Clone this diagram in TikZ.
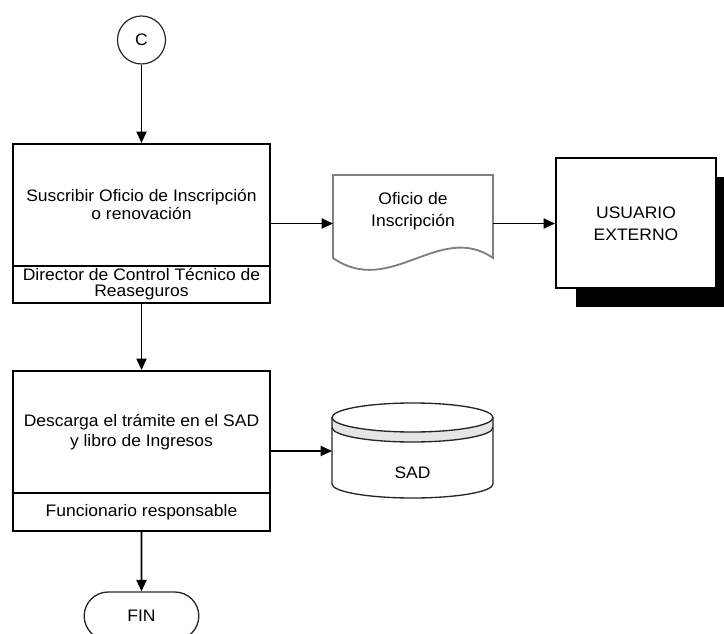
\documentclass[tikz,border=0pt]{standalone}
\usepackage{fontspec}
\setmainfont{Liberation Sans}[FakeStretch=1.05]
\usetikzlibrary{arrows.meta,shapes.misc,shadows}

\begin{document}
\begin{tikzpicture}[x=0.75pt,y=-0.75pt,
  txt/.style={align=center, inner sep=0pt},
  fs/.style={font=\fontsize{12.5}{#1}\selectfont},
  frame/.style={draw=black, line width=1.5pt, fill=white, inner sep=0pt},
  arr/.style={draw=black, line width=1.4pt, -{Triangle[length=8.5pt,width=7.5pt]}},
  docline/.style={draw=black!50, line width=1.4pt, fill=white},
  cylline/.style={draw=black!85, line width=1pt},
]
\useasboundingbox (0,0) rectangle (724,634);

% connector circle
\node[draw=black!85, line width=0.9pt, circle, minimum size=36pt, inner sep=0pt, fs=15pt] (c) at (141.5,40) {C};

% first activity box
\node[frame, minimum width=192.75pt, minimum height=119.25pt] (b1) at (141.5,223.5) {};
\draw[line width=1.5pt] (13,266) -- (270,266);
\node[txt, fs=13.5pt] (t1) at (141.5,204) {Suscribir Oficio de Inscripción\\o renovación};
\node[txt, fs=12pt] (r1) at (141.5,284.5) {Director de Control Técnico de\\Reaseguros};

% document symbol
\draw[docline] (333,258) -- (333,175) -- (493,175) -- (493,258)
  .. controls (440,221) and (390,298) .. (333,258) -- cycle;
\node[txt, fs=16.5pt] (doc) at (413,211) {Oficio de\\Inscripción};
\coordinate (docw) at (333,223.5);
\coordinate (doce) at (493,223.5);

% external user
\node[frame, txt, fs=16.5pt, minimum width=120pt, minimum height=97.5pt,
  drop shadow={shadow xshift=15pt, shadow yshift=-14.25pt, fill=black, opacity=1}]
  (usr) at (636,223.5) {USUARIO\\EXTERNO};

% second activity box
\node[frame, minimum width=192.75pt, minimum height=120pt] (b2) at (141.5,451) {};
\draw[line width=1.5pt] (13,493) -- (270,493);
\node[txt, fs=15pt] (t2) at (141.5,432) {Descarga el trámite en el SAD\\y libro de Ingresos};
\node[txt, fs=15pt] (r2) at (141.5,512) {Funcionario responsable};

% database cylinder
\fill[black!10] (332,417.5) arc[start angle=180, end angle=0, x radius=80.5, y radius=14.5]
  -- (493,427.5) arc[start angle=0, end angle=180, x radius=80.5, y radius=14.5] -- cycle;
\draw[cylline] (332,417.5) -- (332,484)
  arc[start angle=180, end angle=0, x radius=80.5, y radius=14] -- (493,417.5);
\draw[cylline] (412.5,417.5) ellipse[x radius=80.5, y radius=14.5];
\draw[cylline] (332,427.5) arc[start angle=180, end angle=0, x radius=80.5, y radius=14.5];
\node[txt, fs=15pt] (sad) at (412.5,473) {SAD};
\coordinate (sadw) at (332,451);

% terminator
\node[rounded rectangle, draw=black!85, line width=1pt, minimum width=86pt,
  minimum height=36pt, inner sep=0pt, fs=15pt] (fin) at (141.5,616) {FIN};

% connectors
\draw[arr] (c) -- (b1);
\draw[arr] (b1.east) -- (docw);
\draw[arr] (doce) -- (usr.west);
\draw[arr] (b1) -- (b2);
\draw[arr] (b2.east) -- (sadw);
\draw[arr] (b2) -- (fin);
\end{tikzpicture}
\end{document}
